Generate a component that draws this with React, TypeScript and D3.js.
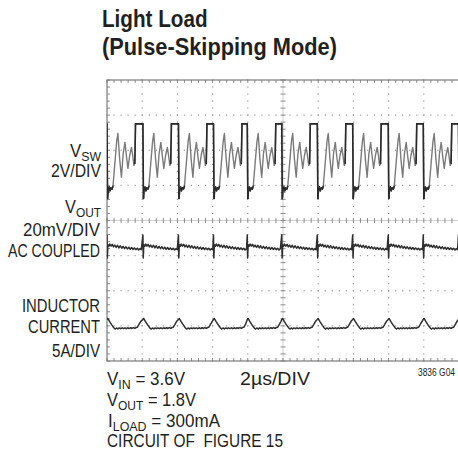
import React, { useEffect, useRef } from 'react';
import * as d3 from 'd3';

// high-side turn-off instants (µs)
const swEdges = [0, 2.04, 4.06, 6.05, 7.97, 9.93, 11.95, 13.96, 15.98, 17.97, 19.97];

// one switching cycle, [µs after turn-off, value]
const vswCycle: [number, number][] = [
  [0.0, 3.5], [0.03, -0.75], [0.07, -0.25], [0.12, -0.1], [0.17, -0.3], [0.22, -0.15],
  [0.29, -0.2], [0.34, -0.05], [0.45, 1.3], [0.55, 2.5], [0.62, 2.95], [0.72, 1.5],
  [0.82, 0.46], [0.92, 1.8], [1.02, 2.45], [1.1, 1.7], [1.19, 0.97], [1.29, 1.7],
  [1.39, 2.16], [1.46, 1.7], [1.53, 1.14], [1.58, 1.25], [1.62, 3.5], [1.98, 3.5],
];

const voutCycle: [number, number][] = [
  [0.0, 6.8], [0.02, -6.4], [0.05, 1.2], [0.1, 0.3], [0.16, 1.6], [0.23, 0.4],
  [0.3, 1.4], [0.37, 0.0], [0.44, 1.0], [0.52, -0.3], [0.6, 0.9], [0.68, -0.6],
  [0.76, 0.6], [0.84, -0.8], [0.92, 0.3], [1.0, -1.0], [1.08, 0.0], [1.16, -1.2],
  [1.24, -0.2], [1.32, -1.4], [1.4, -0.4], [1.48, -1.5], [1.56, -0.6], [1.64, -1.6],
  [1.72, -0.8], [1.8, -1.8], [1.88, -1.0], [1.95, -1.6],
];

const ilCycle: [number, number][] = [
  [0.0, 1.25], [0.05, 1.4], [0.15, 0.95], [0.28, 0.45], [0.4, 0.05], [0.46, -0.1],
  [0.54, 0.05], [0.62, -0.08], [0.7, 0.06], [0.78, -0.05], [0.86, 0.08], [0.94, -0.04],
  [1.02, 0.07], [1.1, -0.05], [1.18, 0.08], [1.26, -0.03], [1.34, 0.09], [1.42, -0.02],
  [1.5, 0.1], [1.58, 0.0], [1.66, 0.12], [1.72, 0.15], [1.82, 0.55], [1.92, 1.0],
];

const timeDivs = [0, 2, 4, 6, 8, 10, 12, 14, 16, 18, 20];
const ampDivs = [0, 1, 2, 3, 4, 5, 6, 7, 8];

type Part = { s: string; sub?: boolean };
type Label = { parts: Part[]; x: number; y: number; w: number; anchor: string };

const leftLabels: Label[] = [
  { parts: [{ s: 'V' }, { s: 'SW', sub: true }], x: 101, y: 156.7, w: 31, anchor: 'end' },
  { parts: [{ s: '2V/DIV' }], x: 101, y: 176.7, w: 50, anchor: 'end' },
  { parts: [{ s: 'V' }, { s: 'OUT', sub: true }], x: 101, y: 213.3, w: 36, anchor: 'end' },
  { parts: [{ s: '20mV/DIV' }], x: 100, y: 236, w: 77, anchor: 'end' },
  { parts: [{ s: 'AC COUPLED' }], x: 100, y: 256.7, w: 92, anchor: 'end' },
  { parts: [{ s: 'INDUCTOR' }], x: 100, y: 311.7, w: 78, anchor: 'end' },
  { parts: [{ s: 'CURRENT' }], x: 100, y: 333.3, w: 72, anchor: 'end' },
  { parts: [{ s: '5A/DIV' }], x: 100, y: 356.7, w: 48, anchor: 'end' },
  { parts: [{ s: 'V' }, { s: 'IN', sub: true }, { s: ' = 3.6V' }], x: 107, y: 385, w: 78, anchor: 'start' },
  { parts: [{ s: '2\u00b5s/DIV' }], x: 240, y: 385, w: 70, anchor: 'start' },
  { parts: [{ s: 'V' }, { s: 'OUT', sub: true }, { s: ' = 1.8V' }], x: 107, y: 406, w: 89, anchor: 'start' },
  { parts: [{ s: 'I' }, { s: 'LOAD', sub: true }, { s: ' = 300mA' }], x: 108, y: 426.7, w: 112, anchor: 'start' },
  { parts: [{ s: 'CIRCUIT OF  FIGURE 15' }], x: 107, y: 447.3, w: 176, anchor: 'start' },
];

const buildTrace = (cycle: [number, number][]) => {
  const pts: [number, number][] = [];
  swEdges.forEach((t0, i) => {
    const len = (swEdges[i + 1] ?? 24) - t0;
    cycle.forEach(([dt, v]) => {
      if (dt < len - 0.01) pts.push([t0 + dt, v]);
    });
  });
  return pts;
};

export default function App() {
  const svgRef = useRef<SVGSVGElement>(null);

  useEffect(() => {
    if (!svgRef.current) return;
    const svg = d3.select(svgRef.current);
    svg.selectAll('*').remove();

    const left = 107, right = 459, top = 80, bottom = 361;
    const x = d3.scaleLinear().domain([0, 20]).range([left, right]);
    const yDiv = d3.scaleLinear().domain([0, 8]).range([bottom, top]);
    const font = "'Liberation Sans Narrow', 'Liberation Sans', Arial, sans-serif";

    // Title
    const title = [
      { s: 'Light Load', y: 27, w: 105.6 },
      { s: '(Pulse-Skipping Mode)', y: 54.5, w: 235 },
    ];
    title.forEach(t => {
      svg.append('text')
        .attr('x', 102).attr('y', t.y)
        .attr('font-family', font).attr('font-weight', 'bold').attr('font-size', 24)
        .attr('textLength', t.w).attr('lengthAdjust', 'spacingAndGlyphs')
        .attr('fill', '#231f20')
        .text(t.s);
    });

    // Grid
    const grid = svg.append('g');
    const minorX = d3.range(0, 20.001, 0.4);
    const minorY = d3.range(0, 8.001, 0.2);
    timeDivs.slice(1, -1).filter(t => t !== 10).forEach(t => {
      minorY.forEach(d => {
        grid.append('rect').attr('x', x(t) - 0.6).attr('y', yDiv(d) - 0.6)
          .attr('width', 1.2).attr('height', 1.2).attr('fill', '#9a9a9a');
      });
    });
    ampDivs.slice(1, -1).filter(d => d !== 4).forEach(d => {
      minorX.forEach(t => {
        grid.append('rect').attr('x', x(t) - 0.6).attr('y', yDiv(d) - 0.6)
          .attr('width', 1.2).attr('height', 1.2).attr('fill', '#9a9a9a');
      });
    });
    // centre axes with minor ticks
    grid.append('line').attr('x1', x(10)).attr('x2', x(10)).attr('y1', top).attr('y2', bottom)
      .attr('stroke', '#c4c4c4').attr('stroke-width', 0.8);
    grid.append('line').attr('x1', left).attr('x2', right).attr('y1', yDiv(4)).attr('y2', yDiv(4))
      .attr('stroke', '#c4c4c4').attr('stroke-width', 0.8);
    minorY.forEach(d => {
      grid.append('line').attr('x1', x(10) - 2.5).attr('x2', x(10) + 2.5)
        .attr('y1', yDiv(d)).attr('y2', yDiv(d)).attr('stroke', '#8c8c8c').attr('stroke-width', 1);
    });
    minorX.forEach(t => {
      grid.append('line').attr('x1', x(t)).attr('x2', x(t))
        .attr('y1', yDiv(4) - 2.5).attr('y2', yDiv(4) + 2.5).attr('stroke', '#8c8c8c').attr('stroke-width', 1);
    });
    // border with inward ticks
    minorX.forEach(t => {
      grid.append('line').attr('x1', x(t)).attr('x2', x(t)).attr('y1', top).attr('y2', top + 3)
        .attr('stroke', '#8c8c8c').attr('stroke-width', 1);
      grid.append('line').attr('x1', x(t)).attr('x2', x(t)).attr('y1', bottom).attr('y2', bottom - 3)
        .attr('stroke', '#8c8c8c').attr('stroke-width', 1);
    });
    minorY.forEach(d => {
      grid.append('line').attr('x1', left).attr('x2', left + 3).attr('y1', yDiv(d)).attr('y2', yDiv(d))
        .attr('stroke', '#8c8c8c').attr('stroke-width', 1);
    });
    grid.append('rect').attr('x', left).attr('y', top).attr('width', right - left).attr('height', bottom - top)
      .attr('fill', 'none').attr('stroke', '#7a7a7a').attr('stroke-width', 1.2);

    // Traces
    svg.append('clipPath').attr('id', 'plot-clip').append('rect')
      .attr('x', left).attr('y', top).attr('width', right - left).attr('height', bottom - top);
    const traces = svg.append('g').attr('clip-path', 'url(#plot-clip)');

    const vsw = buildTrace(vswCycle);
    const vswY = (v: number) => yDiv(5 + v / 2);
    const vswLine = d3.line<[number, number]>().x(d => x(d[0])).y(d => vswY(d[1]));
    traces.append('path').attr('d', vswLine(vsw)).attr('fill', 'none')
      .attr('stroke', '#7a7a7a').attr('stroke-width', 1.4).attr('stroke-linejoin', 'round');
    // flat levels and hard edges show darker on the scope
    const dark: [number, number][][] = [];
    for (let i = 1; i < vsw.length; i++) {
      const a = vsw[i - 1], b = vsw[i];
      const flat = (a[1] >= 3.3 && b[1] >= 3.3) || (a[1] <= 0 && b[1] <= 0);
      const edge = Math.abs(b[1] - a[1]) > 1.5 && b[0] - a[0] < 0.06;
      if (flat || edge) dark.push([a, b]);
    }
    dark.forEach(seg => {
      traces.append('path').attr('d', vswLine(seg)).attr('fill', 'none')
        .attr('stroke', '#2a2a2a').attr('stroke-width', 1.6).attr('stroke-linecap', 'round');
    });

    const vout = buildTrace(voutCycle);
    traces.append('path')
      .attr('d', d3.line<[number, number]>().x(d => x(d[0])).y(d => yDiv(3.25 + d[1] / 20))(vout))
      .attr('fill', 'none').attr('stroke', '#2e2e2e').attr('stroke-width', 1.5).attr('stroke-linejoin', 'round');

    const il = buildTrace(ilCycle);
    traces.append('path')
      .attr('d', d3.line<[number, number]>().x(d => x(d[0])).y(d => yDiv(0.93 + d[1] / 5))(il))
      .attr('fill', 'none').attr('stroke', '#2e2e2e').attr('stroke-width', 1.5).attr('stroke-linejoin', 'round');

    // Labels
    leftLabels.forEach(l => {
      const txt = svg.append('text')
        .attr('x', l.x).attr('y', l.y).attr('text-anchor', l.anchor)
        .attr('font-family', font).attr('font-size', 18.5).attr('fill', '#231f20')
        .attr('textLength', l.w).attr('lengthAdjust', 'spacingAndGlyphs')
        .style('white-space', 'pre');
      let shifted = false;
      l.parts.forEach(p => {
        const ts = txt.append('tspan').text(p.s);
        if (p.sub) {
          ts.attr('font-size', 13.5).attr('dy', 4);
          shifted = true;
        } else if (shifted) {
          ts.attr('dy', -4);
          shifted = false;
        }
      });
    });

    svg.append('text').attr('x', 455).attr('y', 375.7).attr('text-anchor', 'end')
      .attr('font-family', font).attr('font-size', 11).attr('fill', '#231f20')
      .attr('textLength', 37).attr('lengthAdjust', 'spacingAndGlyphs')
      .text('3836 G04');
  }, []);

  return (
    <svg
      ref={svgRef}
      width={458}
      height={455}
      style={{ position: 'absolute', left: 0, top: 0, background: '#fff' }}
    />
  );
}
